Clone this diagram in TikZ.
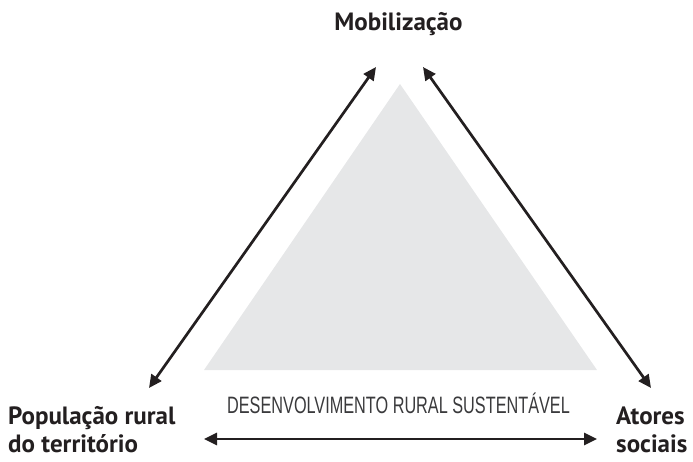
\documentclass[tikz,border=0pt]{standalone}
\usepackage{fontspec}
\setmainfont{PT Sans}
\newfontfamily\condfont{Liberation Sans}
\usetikzlibrary{arrows.meta}
\definecolor{trigray}{HTML}{E6E7E8}
\definecolor{ink}{HTML}{231F20}
\definecolor{softink}{HTML}{3A3A3C}
\begin{document}
\begin{tikzpicture}[x=1pt,y=-1pt,
  link/.style={draw=ink,line width=2.7pt,{Triangle[length=13pt,width=12pt]}-{Triangle[length=13pt,width=12pt]}},
  lbl/.style={font=\fontsize{25}{28}\selectfont\bfseries,text=ink,inner sep=0pt},
]
\useasboundingbox (0,0) rectangle (693,462);
\fill[trigray] (400,84) coordinate (apex) -- (597,370) coordinate (br) -- (204,370) coordinate (bl) -- cycle;
\node[lbl,anchor=base] (mob) at (398.5,31) {Mobilização};
\node[lbl,align=left,anchor=base west] (pop) at (8,452) {População rural\\do território};
\node[lbl,align=left,anchor=base west] (ato) at (616,452) {Atores\\sociais};
\node[text=softink,inner sep=0pt,anchor=base] (drs) at (398.5,413) {\scalebox{0.686}[1]{\condfont\fontsize{23.7}{26}\selectfont DESENVOLVIMENTO RURAL SUSTENTÁVEL}};
\coordinate (lt) at (376,67);
\coordinate (lb) at (149,388);
\coordinate (rt) at (423,67);
\coordinate (rb) at (651,388);
\coordinate (bl2) at (204,439);
\coordinate (br2) at (597,439);
\draw[link] (lb) -- (lt);
\draw[link] (rt) -- (rb);
\draw[link] (bl2) -- (br2);
\end{tikzpicture}
\end{document}
